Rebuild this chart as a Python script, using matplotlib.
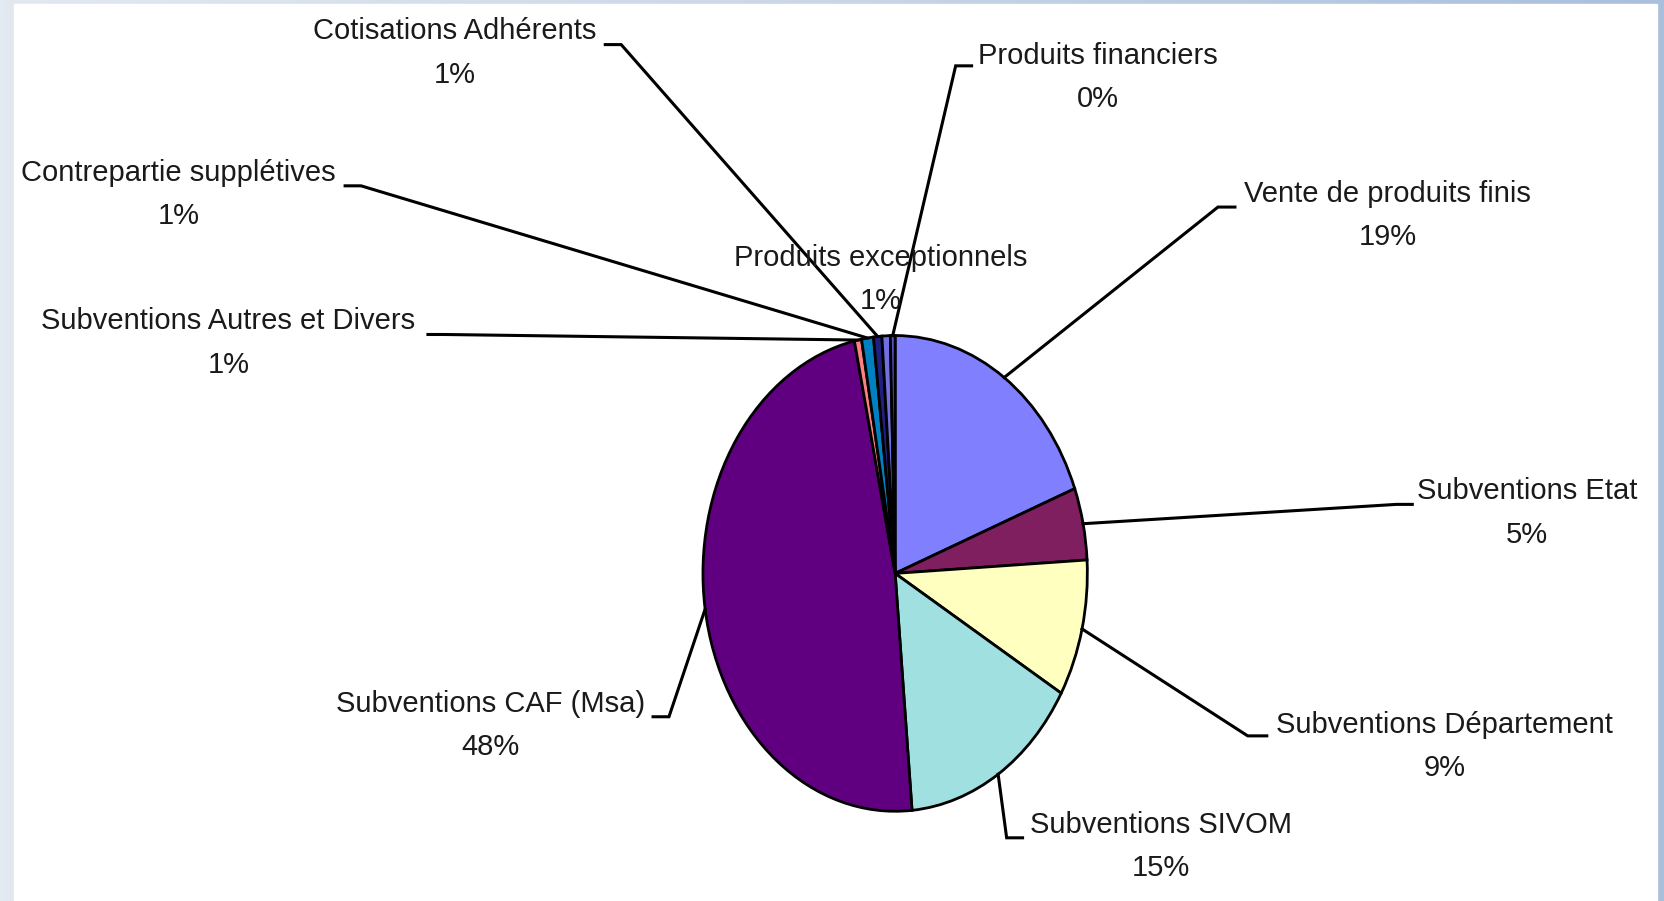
import numpy as np
import matplotlib
matplotlib.use('Agg')
import matplotlib.pyplot as plt
from matplotlib.colors import LinearSegmentedColormap

# slices, clockwise from 12 o'clock
labels = ['Vente de produits finis', 'Subventions Etat', 'Subventions Département',
          'Subventions SIVOM', 'Subventions CAF (Msa)', 'Subventions Autres et Divers',
          'Contrepartie supplétives', 'Cotisations Adhérents', 'Produits exceptionnels',
          'Produits financiers']
values = [19.2, 4.9, 9.3, 15.2, 48.0, 0.6, 1.0, 0.7, 0.7, 0.4]
colors = ['#8080FF', '#7F1F5F', '#FFFFC0', '#A0E0E0', '#600080', '#FF8080',
          '#0080C0', '#202080', '#7070E0', '#5050C0']

W, H = 1665, 901
sc = W / 1568.0

# label layout (pixel coords of the shrunk view): text centre, elbow point, stub length
lay = {
    'Cotisations Adhérents': ((428, 50), (585, 42), -15),
    'Produits financiers': ((1034, 73), (900, 62), 15),
    'Vente de produits finis': ((1307, 203), (1147, 195), 16),
    'Contrepartie supplétives': ((168, 183), (340, 175), -15),
    'Produits exceptionnels': ((829, 263), None, 0),
    'Subventions Autres et Divers': ((215, 323), (418, 315), -15),
    'Subventions Etat': ((1438, 483), (1315, 475), 15),
    'Subventions Département': ((1360, 703), (1175, 693), 18),
    'Subventions SIVOM': ((1093, 797), (948, 789), 15),
    'Subventions CAF (Msa)': ((462, 683), (630, 675), -15),
}

plt.rcParams['font.family'] = ['Liberation Sans Narrow', 'Liberation Sans', 'DejaVu Sans']

fig = plt.figure(figsize=(W / 100, H / 100), dpi=100)

# background frame with a soft gradient
bg = fig.add_axes([0, 0, 1, 1])
cmap = LinearSegmentedColormap.from_list('frame', ['#e2e9f1', '#c9d6e6', '#a9bfdc'])
bg.imshow(np.linspace(0, 1, 256)[None, :], cmap=cmap, aspect='auto', extent=[0, W, H, 0])
bg.add_patch(plt.Rectangle((14, 4), 1643, H, color='white'))
bg.set_xlim(0, W)
bg.set_ylim(H, 0)
bg.axis('off')

# pie axes (the original pie is stretched vertically)
cx, cy = 843 * sc, 540 * sc
rx, ry = 181 * sc, 224 * sc
ax = fig.add_axes([(cx - rx) / W, (H - cy - ry) / H, 2 * rx / W, 2 * ry / H])
wedges, _ = ax.pie(values, colors=colors, startangle=90, counterclock=False,
                   wedgeprops=dict(edgecolor='black', linewidth=2))
ax.set_aspect('auto')
ax.set_xlim(-1, 1)
ax.set_ylim(-1, 1)

# overlay for labels and leader lines, in pixels
ov = fig.add_axes([0, 0, 1, 1])
ov.set_xlim(0, W)
ov.set_ylim(H, 0)
ov.axis('off')

total = sum(values)
for w, lab, v in zip(wedges, labels, values):
    (tx, ty), elbow, stub = lay[lab]
    ov.text(tx * sc, ty * sc, '%s\n%d%%' % (lab, round(v / total * 100)),
            ha='center', va='center', fontsize=21, color='#1a1a1a', linespacing=1.7)
    if elbow is None:
        continue
    mid = np.deg2rad((w.theta1 + w.theta2) / 2)
    px, py = ov.transData.inverted().transform(ax.transData.transform((np.cos(mid), np.sin(mid))))
    ex, ey = elbow[0] * sc, elbow[1] * sc
    ov.plot([ex + stub * sc, ex, px], [ey, ey, py], color='black', lw=2.2,
            solid_joinstyle='miter')

fig.savefig('out.png', dpi=100)
